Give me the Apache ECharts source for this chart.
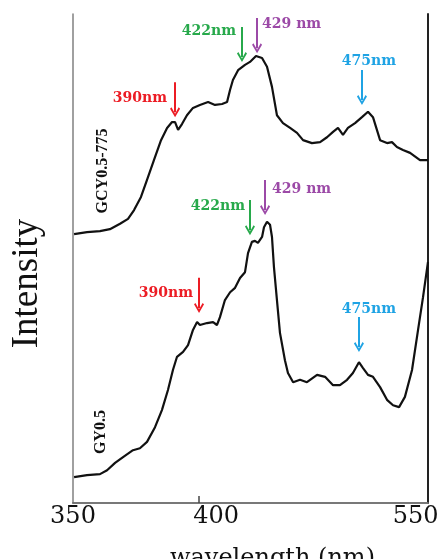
<!DOCTYPE html>
<html><head><meta charset="utf-8">
<script src="https://cdn.jsdelivr.net/npm/echarts@6/dist/echarts.min.js"></script>
<style>html,body{margin:0;padding:0;background:#fff}#c{width:446px;height:559px}</style>
</head><body><div id="c"></div>
<script>
// ---- data ----
const wavelengthTop = [350.6,357.9,365.2,370.8,376.5,381.0,384.4,388.3,391.7,395.6,399.6,403.0,405.8,407.5,409.2,411.4,414.2,417.6,421.5,426.1,430.0,434.0,436.8,438.5,440.1,443.0,446.9,449.7,453.1,456.5,459.3,462.1,464.9,468.3,472.3,476.2,479.6,484.6,489.2,493.1,496.5,499.3,502.1,504.9,508.9,512.8,516.2,519.0,523.0,526.9,529.7,532.5,535.9,539.9,545.5,550.0];
const intensityTop  = [55.0,55.4,55.6,56.0,57.1,58.1,59.9,62.6,66.1,70.1,74.2,76.7,77.9,77.9,76.3,77.5,79.3,80.8,81.4,82.0,81.4,81.6,82.0,84.5,86.5,88.5,89.6,90.2,91.4,91.0,89.2,85.1,79.3,77.7,76.7,75.7,74.2,73.6,73.8,74.8,75.9,76.7,75.3,76.7,77.7,78.9,80.0,78.9,74.2,73.6,73.8,72.8,72.2,71.6,70.1,70.1];
const wavelengthBottom = [350.6,357.9,365.2,369.2,373.7,378.2,383.8,387.7,391.7,396.2,400.1,403.5,406.3,408.6,412.0,414.8,417.6,419.9,421.5,425.5,428.9,431.1,432.8,435.6,438.5,441.3,444.1,446.9,448.6,450.8,452.5,454.2,456.5,457.6,459.3,461.0,462.1,463.2,464.9,466.6,469.4,471.1,474.0,477.9,481.8,487.5,492.0,496.5,500.4,504.4,507.7,511.1,513.4,516.2,519.0,523.0,526.9,530.3,533.7,537.0,541.0,544.4,547.2,550.0];
const intensityBottom  = [5.3,5.7,5.9,6.7,8.2,9.4,10.8,11.2,12.5,15.5,19.0,23.1,27.2,29.9,30.9,32.3,35.4,37.0,36.4,36.8,37.0,36.4,38.0,41.5,43.1,44.0,46.0,47.2,51.1,53.4,53.6,53.2,54.4,56.4,57.5,56.9,54.4,48.3,41.5,34.8,29.2,26.6,24.7,25.2,24.7,26.2,25.8,24.1,24.1,25.2,26.6,28.8,27.6,26.2,25.8,23.7,21.1,20.0,19.6,21.7,27.2,35.4,42.1,49.3];
const xTickLabels = ['350','400','550'];
const sampleNames = ['GCY0.5-775','GY0.5'];
const peakLabels = ['390nm','422nm','429 nm','475nm'];
const topArrowX = [407.5,445.2,453.7,512.8];
const topArrowTip = [78.9,90.2,92.0,81.4];
const bottomArrowX = [421.0,449.7,458.2,511.1];
const bottomArrowTip = [38.9,54.8,58.9,30.9];

// ---- styling / layout ----
const peakColors = ['#ec1c24','#27a94b','#9c4aa7','#1fa3e4'];
const ARROW_LEN = 7.16; // in y units (~35px)
const HEAD_HALF = 1.0;  // half chevron height in y units (~5px)
const CHEVRON = 'path://M5,0 L10,8.6 L8.6,10 L5,3.6 L1.4,10 L0,8.6 Z';
const annFont = {fontFamily:'DejaVu Serif', fontWeight:'bold', fontSize:14};
const topLabelLayout = [
  {position:'left', distance:8, offset:[0,16]},
  {position:'left', distance:6, offset:[0,4]},
  {position:'right', distance:5, offset:[0,6]},
  {position:'top', distance:2, offset:[7,0]}
];
const bottomLabelLayout = [
  {position:'left', distance:6, offset:[0,16]},
  {position:'left', distance:5, offset:[0,6]},
  {position:'right', distance:7, offset:[0,9]},
  {position:'top', distance:1, offset:[10,0]}
];
const zip = (a,b)=>a.map((v,i)=>[v,b[i]]);

function arrows(xs, tips){
  return xs.map((x,i)=>[
    {coord:[x, tips[i]+ARROW_LEN], lineStyle:{color:peakColors[i]}},
    {coord:[x, tips[i]+HEAD_HALF]}
  ]);
}
function peakTexts(xs, tips, layout){
  return xs.map((x,i)=>({
    coord:[x, tips[i]+ARROW_LEN],
    symbol:'circle', symbolSize:0,
    label:Object.assign({show:true, formatter:peakLabels[i], color:peakColors[i]}, annFont, layout[i])
  }));
}
function nameText(name, coord, size){
  return {coord, symbol:'circle', symbolSize:0,
    label:{show:true, formatter:name, rotate:90, position:'inside', color:'#111',
      fontFamily:'Liberation Serif', fontWeight:'bold', fontSize:size}};
}

const labelPos = [350, 430.6, 543];
const chart = echarts.init(document.getElementById('c'), null, {renderer:'canvas'});
chart.setOption({
  animation:false,
  backgroundColor:'#fff',
  grid:{left:73, top:14, right:18, bottom:56, outerBoundsMode:'none', containLabel:false},
  xAxis:[{
    type:'value', min:350, max:550, position:'bottom',
    axisLine:{show:true, lineStyle:{color:'#555', width:1.5}},
    axisTick:{show:true, inside:true, length:7, customValues:[421], lineStyle:{color:'#444', width:1.5}},
    splitLine:{show:false},
    axisLabel:{customValues:labelPos, margin:2, color:'#111', fontFamily:'DejaVu Serif', fontSize:24,
      formatter:v=>xTickLabels[labelPos.indexOf(v)] ?? ''},
    name:'wavelength (nm)', nameLocation:'middle', nameGap:44,
    nameTextStyle:{color:'#111', fontFamily:'DejaVu Serif', fontSize:24, padding:[0,0,0,44]}
  },{
    type:'value', min:350, max:550, position:'top',
    axisLine:{show:true, lineStyle:{color:'#777', width:1.5}},
    axisTick:{show:false}, axisLabel:{show:false}, splitLine:{show:false}
  }],
  yAxis:[{
    type:'value', min:0, max:100, position:'left',
    axisLine:{show:true, lineStyle:{color:'#808080', width:1.5}},
    axisTick:{show:false}, axisLabel:{show:false}, splitLine:{show:false},
    name:'Intensity', nameLocation:'middle', nameGap:27,
    nameTextStyle:{color:'#111', fontFamily:'Liberation Serif', fontSize:37, padding:[0,50,0,0]}
  },{
    type:'value', min:0, max:100, position:'right',
    axisLine:{show:true, lineStyle:{color:'#222', width:2}},
    axisTick:{show:false}, axisLabel:{show:false}, splitLine:{show:false}
  }],
  series:[{
    name:sampleNames[0], type:'line', data:zip(wavelengthTop,intensityTop),
    showSymbol:false, smooth:false, lineStyle:{color:'#111', width:2.2},
    markLine:{silent:true, symbol:['none',CHEVRON], symbolSize:[10,10], label:{show:false},
      lineStyle:{width:2, type:'solid'}, data:arrows(topArrowX, topArrowTip)},
    markPoint:{silent:true, data:peakTexts(topArrowX, topArrowTip, topLabelLayout)
      .concat([nameText(sampleNames[0],[366.9,67.9],16)])}
  },{
    name:sampleNames[1], type:'line', data:zip(wavelengthBottom,intensityBottom),
    showSymbol:false, smooth:false, lineStyle:{color:'#111', width:2.2},
    markLine:{silent:true, symbol:['none',CHEVRON], symbolSize:[10,10], label:{show:false},
      lineStyle:{width:2, type:'solid'}, data:arrows(bottomArrowX, bottomArrowTip)},
    markPoint:{silent:true, data:peakTexts(bottomArrowX, bottomArrowTip, bottomLabelLayout)
      .concat([nameText(sampleNames[1],[365.8,14.5],16)])}
  }]
});
</script></body></html>
